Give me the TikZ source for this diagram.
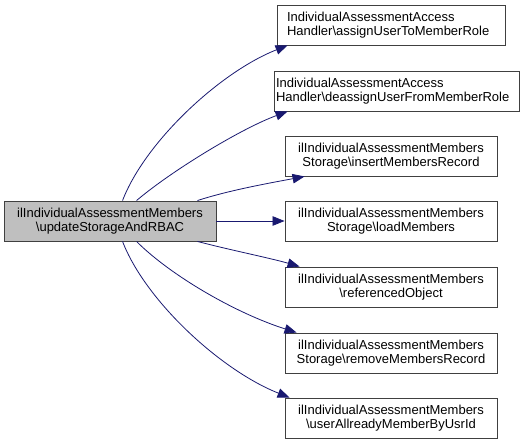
\documentclass[tikz,border=0pt]{standalone}
\usepackage{fontspec}
\setmainfont{Liberation Sans}
\usetikzlibrary{arrows.meta}
\definecolor{edgeblue}{HTML}{191970}
\definecolor{boxgray}{HTML}{BFBFBF}
\definecolor{boxline}{HTML}{404040}
\tikzset{
  fn/.style={draw=boxline, line width=0.9pt, fill=white, minimum height=40pt, inner ysep=0pt,
    font=\fontsize{13}{13.4}\selectfont, align=center},
  fnleft/.style={fn, align=left},
  fncur/.style={fn, fill=boxgray},
  call/.style={draw=edgeblue, line width=0.8pt, -{Triangle[length=12pt,width=9.5pt]}}
}
\begin{document}
\begin{tikzpicture}[x=1pt,y=-1pt]
\useasboundingbox (0,0) rectangle (524,444);
\node[fncur, minimum width=212pt] (L) at (110,221) {ilIndividualAssessmentMembers\\\textbackslash updateStorageAndRBAC};
\node[fnleft, text width=208pt, inner xsep=10pt, minimum width=228pt] (B1) at (391,25) {IndividualAssessmentAccess\\Handler\textbackslash assignUserToMemberRole};
\node[fnleft, text width=241pt, inner xsep=2pt, minimum width=245pt] (B2) at (396.5,91) {IndividualAssessmentAccess\\Handler\textbackslash deassignUserFromMemberRole};
\node[fn, minimum width=212pt] (B3) at (391,156) {ilIndividualAssessmentMembers\\Storage\textbackslash insertMembersRecord};
\node[fn, minimum width=212pt] (B4) at (391,221) {ilIndividualAssessmentMembers\\Storage\textbackslash loadMembers};
\node[fn, minimum width=212pt] (B5) at (391,287) {ilIndividualAssessmentMembers\\\textbackslash referencedObject};
\node[fn, minimum width=212pt] (B6) at (391,353) {ilIndividualAssessmentMembers\\Storage\textbackslash removeMembersRecord};
\node[fn, minimum width=212pt] (B7) at (391,418) {ilIndividualAssessmentMembers\\\textbackslash userAllreadyMemberByUsrId};

\draw[call] ([xshift=119pt]L.north west) .. controls (145,142) and (220,72) .. ([xshift=11pt]B1.south west);
\draw[call] ([xshift=133pt]L.north west) .. controls (170,172) and (240,129) .. ([xshift=14pt]B2.south west);
\draw[call] ([xshift=-19pt]L.north east) .. controls (230,190) and (270,183) .. ([xshift=20pt]B3.south west);
\draw[call] (L.east) -- (B4.west);
\draw[call] ([xshift=-19pt]L.south east) .. controls (230,250) and (270,258) .. ([xshift=15pt]B5.north west);
\draw[call] ([xshift=133pt]L.south west) .. controls (170,275) and (235,313) .. ([xshift=12pt]B6.north west);
\draw[call] ([xshift=119pt]L.south west) .. controls (145,300) and (220,370) .. ([xshift=5pt]B7.north west);
\end{tikzpicture}
\end{document}
